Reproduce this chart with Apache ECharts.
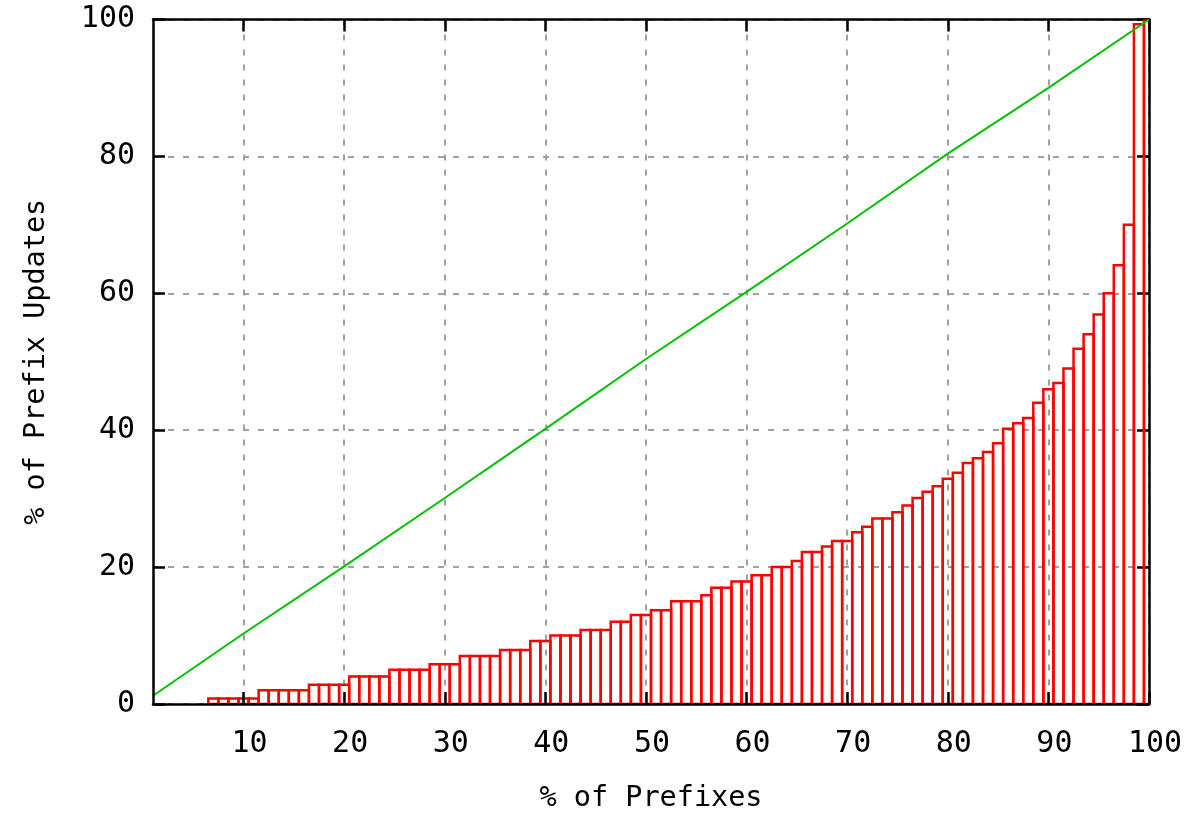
<!DOCTYPE html>
<html>
<head>
<meta charset="utf-8">
<script src="https://cdn.jsdelivr.net/npm/echarts@6/dist/echarts.min.js"></script>
<style>
html,body{margin:0;padding:0;background:#fff;width:100%;height:100%;overflow:hidden;}
#chart{width:1184px;height:813px;}
</style>
</head>
<body>
<div id="chart"></div>
<script>
// % of prefixes (bar centres) and % of prefix updates (bar heights)
const prefixPct = [7,8,9,10,11,12,13,14,15,16,17,18,19,20,21,22,23,24,25,26,27,28,29,30,31,32,33,34,35,36,37,38,39,40,
  41,42,43,44,45,46,47,48,49,50,51,52,53,54,55,56,57,58,59,60,61,62,63,64,65,66,67,68,69,70,
  71,72,73,74,75,76,77,78,79,80,81,82,83,84,85,86,87,88,89,90,91,92,93,94,95,96,97,98,99,100];
const updatePct = [0.8,0.8,0.8,0.8,0.8, 2.0,2.0,2.0,2.0,2.0, 2.8,2.8,2.8,2.8, 4.0,4.0,4.0,4.0, 5.0,5.0,5.0,5.0,
  5.8,5.8,5.8, 7.0,7.0,7.0,7.0, 7.9,7.9,7.9, 9.2,9.2, 10.0,10.0,10.0, 10.8,10.8,10.8, 12.0,12.0, 13.0,13.0,
  13.7,13.7, 15.0,15.0,15.0, 15.9, 17.0,17.0, 17.9,17.9, 18.8,18.8, 20.0,20.0, 20.9, 22.2,22.2, 23.0, 23.8,23.8,
  25.1, 25.9, 27.1,27.1, 28.0, 29.0, 30.1, 31.0, 31.8, 32.9, 33.8, 35.2, 35.9, 36.8, 38.1, 40.2, 41.0, 41.8,
  44.0, 46.0, 46.9, 49.0, 51.9, 54.0, 56.9, 60.0, 64.1, 70.0, 99.3, 100];

// green cumulative line
const cumX = [1, 10, 20, 30, 40, 50, 60, 70, 80, 90, 100];
const cumY = [1.2, 10.3, 20.1, 30.1, 40.2, 50.4, 60.2, 70.2, 80.4, 90.0, 100];

// tick labels
const xTicks = [10,20,30,40,50,60,70,80,90,100];
const yTicks = [0,20,40,60,80,100];

const xName = '% of Prefixes';
const yName = '% of Prefix Updates';

const FONT = 'DejaVu Sans Mono';
const gridLine = {show:true, lineStyle:{color:'#a0a0a0', width:2, type:[6,9]}};

const barData = prefixPct.map((x,i)=>[x, updatePct[i]]);
const lineData = cumX.map((x,i)=>[x, cumY[i]]);

const chart = echarts.init(document.getElementById('chart'), null, {renderer:'canvas'});
chart.setOption({
  backgroundColor:'#ffffff',
  animation:false,
  grid:{left:153, right:35, top:19.5, bottom:109, containLabel:false, outerBoundsMode:'none'},
  xAxis:[
    {type:'value', position:'bottom', min:1, max:100, z:5,
     name:xName, nameLocation:'middle', nameGap:80,
     nameTextStyle:{fontFamily:FONT, fontSize:28.5, color:'#000'},
     axisLine:{show:true, onZero:false, lineStyle:{color:'#000', width:2.5}},
     axisTick:{show:true, inside:true, length:12, customValues:xTicks, lineStyle:{color:'#000', width:2.5}},
     axisLabel:{show:true, customValues:xTicks, margin:25, fontFamily:FONT, fontSize:30, color:'#000', padding:[0,0,0,12]},
     splitLine:{show:false}},
    {type:'value', position:'top', min:1, max:100, z:0,
     axisLine:{show:true, onZero:false, lineStyle:{color:'#000', width:2.5}},
     axisTick:{show:true, inside:true, length:12, customValues:xTicks, lineStyle:{color:'#000', width:2.5}},
     axisLabel:{show:false, customValues:xTicks},
     splitLine:gridLine}
  ],
  yAxis:[
    {type:'value', position:'left', min:0, max:100, interval:20, z:5,
     name:yName, nameLocation:'middle', nameGap:102, nameRotate:90,
     nameTextStyle:{fontFamily:FONT, fontSize:28.5, color:'#000'},
     axisLine:{show:true, onZero:false, lineStyle:{color:'#000', width:2.5}},
     axisTick:{show:true, inside:true, length:12, lineStyle:{color:'#000', width:2.5}},
     axisLabel:{show:true, margin:18, fontFamily:FONT, fontSize:30, color:'#000',
       formatter:(v)=> yTicks.includes(v) ? String(v) : ''},
     splitLine:{show:false}},
    {type:'value', position:'right', min:0, max:100, interval:20, z:0,
     axisLine:{show:true, onZero:false, lineStyle:{color:'#000', width:2.5}},
     axisTick:{show:true, inside:true, length:12, lineStyle:{color:'#000', width:2.5}},
     axisLabel:{show:false},
     splitLine:gridLine}
  ],
  series:[
    {type:'custom', xAxisIndex:0, yAxisIndex:0, clip:true, z:2,
     data:barData,
     renderItem:function(params, api){
       const x = api.value(0), h = api.value(1);
       const p0 = api.coord([x-0.5, 0]);
       const p1 = api.coord([x+0.5, h]);
       return {type:'rect',
         shape:{x:p0[0], y:p1[1], width:p1[0]-p0[0], height:p0[1]-p1[1]},
         style:{fill:null, stroke:'#ff0000', lineWidth:2.5}};
     }},
    {type:'line', xAxisIndex:0, yAxisIndex:0, data:lineData, showSymbol:false, symbol:'none',
     z:3, lineStyle:{color:'#00c000', width:2}, itemStyle:{color:'#00c000'}}
  ]
});
</script>
</body>
</html>
